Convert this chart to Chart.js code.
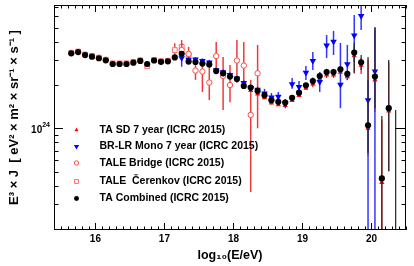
<!DOCTYPE html>
<html><head><meta charset="utf-8">
<script src="https://cdn.jsdelivr.net/npm/chart.js@4/dist/chart.umd.min.js"></script>
<style>html,body{margin:0;padding:0;background:#fff;overflow:hidden}</style>
</head><body>
<canvas id="c" width="414" height="266"></canvas>
<script>
// ---- data (values in units of 1e24 eV^2 m^-2 sr^-1 s^-1) ----
const UNIT = 1e24;
const xTicks = [16, 17, 18, 19, 20];
const xTickLabels = ['16', '17', '18', '19', '20'];
const yTickLabelBase = '10', yTickLabelExp = '24';

// TA Combined (ICRC 2015)
const combX = [15.65,15.75,15.85,15.95,16.05,16.15,16.25,16.35,16.45,16.55,16.65,16.75,16.85,16.95,17.05,17.15,17.25,17.35,17.45,17.55,17.65,17.75,17.85,17.95,18.05,18.15,18.25,18.35,18.45,18.55,18.65,18.75,18.85,18.95,19.05,19.15,19.25,19.35,19.45,19.55,19.65,19.75,19.85,19.95,20.05,20.15,20.25,20.35];
const combY = [3.32,3.39,3.23,3.15,3.07,2.97,2.80,2.80,2.80,2.86,2.94,2.80,2.96,2.90,2.92,3.11,3.30,2.91,2.89,2.82,2.78,2.50,2.41,2.29,2.20,1.97,1.92,1.82,1.70,1.57,1.53,1.51,1.63,1.77,1.99,2.13,2.31,2.46,2.46,2.57,2.39,3.36,2.88,1.05,2.29,0.448,1.38,0.15];
const combHi = [3.36,3.43,3.27,3.19,3.11,3.01,2.84,2.84,2.84,2.90,2.98,2.84,3.00,2.94,2.96,3.15,3.34,2.95,2.93,2.86,2.82,2.54,2.45,2.33,2.24,2.01,1.96,1.86,1.74,1.61,1.57,1.55,1.67,1.81,2.04,2.26,2.44,2.59,2.59,2.70,2.52,3.92,3.23,3.13,4.98,1.22,2.98,1.34];
const combLo = [3.28,3.35,3.19,3.11,3.03,2.93,2.76,2.76,2.76,2.82,2.90,2.76,2.92,2.86,2.88,3.07,3.26,2.87,2.85,2.78,2.74,2.46,2.37,2.25,2.16,1.93,1.88,1.78,1.66,1.53,1.49,1.47,1.59,1.73,1.94,2.01,2.19,2.34,2.34,2.45,2.27,2.43,2.54,0.673,1.38,0.05,0.505,0.05];

// BR-LR Mono 7 year (ICRC 2015)
const brlrX = [17.25,17.35,17.45,17.55,17.65,17.75,17.85,17.95,18.05,18.15,18.25,18.35,18.45,18.55,18.65,18.75,18.85,18.95,19.05,19.15,19.25,19.35,19.45,19.55,19.65,19.75,19.85,19.95,20.05];
const brlrY = [3.08,3.00,3.01,2.94,2.87,2.54,2.46,2.35,2.22,2.07,1.91,1.86,1.75,1.64,1.66,1.49,2.03,1.94,2.44,2.94,2.10,3.77,4.00,2.01,2.79,4.42,6.04,1.57,2.49];
const brlrHi = [3.34,3.12,3.13,3.06,2.99,2.65,2.56,2.45,2.32,2.16,2.00,1.95,1.88,1.76,1.79,1.60,2.24,2.13,2.71,3.39,2.46,4.45,4.75,3.92,3.80,6.14,10.0,2.17,5.06];
const brlrLo = [2.68,2.88,2.89,2.82,2.75,2.43,2.36,2.25,2.12,1.98,1.82,1.77,1.65,1.52,1.55,1.38,1.88,1.76,2.17,2.54,1.79,3.08,3.23,1.38,2.17,2.89,4.83,0.05,0.05];

// TA SD 7 year (ICRC 2015)
const sdX = [18.25,18.35,18.45,18.55,18.65,18.75,18.85,18.95,19.05,19.15,19.25,19.35,19.45,19.55,19.65,19.75,19.85,19.95,20.05,20.15,20.25];
const sdY = [1.83,1.73,1.63,1.50,1.46,1.44,1.56,1.69,1.90,2.03,2.20,2.35,2.35,2.45,2.28,3.20,2.74,1.00,2.17,0.42,1.32];
const sdHi = [1.86,1.76,1.66,1.53,1.49,1.47,1.59,1.72,1.94,2.13,2.30,2.46,2.46,2.57,2.40,3.70,3.09,3.00,4.80,1.15,2.90];
const sdLo = [1.80,1.70,1.60,1.47,1.43,1.41,1.53,1.66,1.86,1.93,2.10,2.24,2.24,2.33,2.16,2.40,2.39,0.64,1.30,0.05,0.50];

// TALE Bridge (ICRC 2015)
const bridgeX = [17.25,17.35,17.45,17.55,17.65,17.75,17.85,17.95,18.05,18.15,18.25,18.35];
const bridgeY = [3.50,3.29,2.52,2.48,2.08,3.18,2.31,2.00,2.96,2.73,1.24,2.41];
const bridgeHi = [3.92,3.68,2.89,2.89,2.85,3.98,3.13,2.76,4.11,3.98,2.17,3.80];
const bridgeLo = [3.08,2.89,2.17,1.79,1.57,2.46,1.34,1.52,2.07,2.00,0.36,1.00];

// TALE Cerenkov (ICRC 2015)
const cerX = [15.65,15.75,15.85,15.95,16.05,16.15,16.25,16.35,16.45,16.55,16.65,16.75,16.85,16.95,17.05,17.15,17.25,17.35];
const cerY = [3.35,3.42,3.26,3.18,3.10,3.00,2.83,2.83,2.83,2.89,2.97,2.70,2.99,2.93,2.95,3.50,3.68,3.25];
const cerHi = [3.39,3.46,3.30,3.22,3.14,3.04,2.87,2.87,2.87,2.93,3.01,2.74,3.03,2.97,2.99,3.90,4.11,3.45];
const cerLo = [3.31,3.38,3.22,3.14,3.06,2.96,2.79,2.79,2.79,2.85,2.93,2.66,2.95,2.89,2.91,3.20,3.00,3.05];

const legendLabels = ['TA SD 7 year (ICRC 2015)', 'BR-LR Mono 7 year (ICRC 2015)', 'TALE Bridge (ICRC 2015)', 'TALE  \u010Cerenkov (ICRC 2015)', 'TA Combined (ICRC 2015)'];

// ---- build ----
const FONT = "'Liberation Sans', Arial, Helvetica, sans-serif";
Chart.defaults.font.family = FONT;
Chart.defaults.color = '#000';

function mk(label, xs, ys, hi, lo, style) {
  return Object.assign({
    label,
    data: xs.map((x, i) => ({x, y: ys[i] * UNIT})),
    errHi: hi, errLo: lo,
    showLine: false
  }, style);
}

const datasets = [
  mk(legendLabels[4], combX, combY, combHi, combLo, {pointStyle:'circle', pointRadius:3.1, backgroundColor:'#000', borderColor:'#000', borderWidth:0, errColor:'#262626', errWidth:1.2}),
  mk(legendLabels[1], brlrX, brlrY, brlrHi, brlrLo, {pointStyle:'triangle', rotation:180, pointRadius:3.8, backgroundColor:'#0000ff', borderColor:'#0000ff', borderWidth:0, errColor:'#3535ff', errWidth:1.5}),
  mk(legendLabels[0], sdX, sdY, sdHi, sdLo, {pointStyle:'triangle', pointRadius:3, backgroundColor:'#ff0000', borderColor:'#ff0000', borderWidth:0, errColor:'#ff0000', errWidth:1.2}),
  mk(legendLabels[2], bridgeX, bridgeY, bridgeHi, bridgeLo, {pointStyle:'circle', pointRadius:2.7, backgroundColor:'#ffffff', borderColor:'#ff4a4a', borderWidth:1, errColor:'#f03a3a', errWidth:1.5}),
  mk(legendLabels[3], cerX, cerY, cerHi, cerLo, {pointStyle:'rect', pointRadius:3.4, backgroundColor:'#ffffff', borderColor:'#ff6a6a', borderWidth:1, errColor:'#f04848', errWidth:1.5})
];

const errorBars = {
  id: 'errorBars',
  beforeDatasetDraw(chart, args) {
    const d = chart.data.datasets[args.index];
    if (!d.errHi) return;
    const {ctx, chartArea: a, scales: {x, y}} = chart;
    ctx.save();
    ctx.beginPath(); ctx.rect(a.left, a.top, a.right - a.left, a.bottom - a.top); ctx.clip();
    ctx.strokeStyle = d.errColor; ctx.lineWidth = d.errWidth;
    d.data.forEach((p, i) => {
      const px = x.getPixelForValue(p.x);
      ctx.beginPath();
      ctx.moveTo(px, y.getPixelForValue(d.errHi[i] * UNIT));
      ctx.lineTo(px, y.getPixelForValue(d.errLo[i] * UNIT));
      ctx.stroke();
    });
    ctx.restore();
  }
};

const frame = {
  id: 'frame',
  afterDraw(chart) {
    const {ctx, chartArea: a, scales: {x, y}} = chart;
    ctx.save();
    ctx.strokeStyle = '#000'; ctx.lineWidth = 1;
    ctx.strokeRect(Math.round(a.left) + 0.5, Math.round(a.top) + 0.5, Math.round(a.right - a.left) - 1, Math.round(a.bottom - a.top) - 1);
    const L = (x1, y1, x2, y2) => { ctx.beginPath(); ctx.moveTo(x1, y1); ctx.lineTo(x2, y2); ctx.stroke(); };
    // x ticks every 0.1
    for (let k = Math.ceil(x.min * 10); k <= Math.floor(x.max * 10); k++) {
      const px = Math.round(x.getPixelForValue(k / 10)) + 0.5;
      const len = (k % 10 === 0) ? 7 : 3.5;
      L(px, a.bottom, px, a.bottom - len);
      L(px, a.top, px, a.top + len);
    }
    // y ticks (log)
    for (let e = 23; e <= 24; e++) {
      for (let m = 1; m <= 9; m++) {
        const v = m * Math.pow(10, e);
        if (v < y.min || v > y.max) continue;
        const py = Math.round(y.getPixelForValue(v)) + 0.5;
        const len = (m === 1) ? 9 : 4.5;
        L(a.left, py, a.left + len, py);
        L(a.right, py, a.right - len - (m === 1 ? 2 : 0), py);
      }
    }
    // y tick label 10^24
    const py = y.getPixelForValue(UNIT);
    ctx.fillStyle = '#000';
    ctx.textBaseline = 'middle';
    ctx.textAlign = 'right';
    ctx.font = 'bold 7px ' + FONT;
    ctx.fillText(yTickLabelExp, a.left - 4, py - 3);
    const ew = ctx.measureText(yTickLabelExp).width;
    ctx.font = 'bold 10px ' + FONT;
    ctx.fillText(yTickLabelBase, a.left - 4 - ew, py + 1.5);
    // legend
    const order = [2, 1, 3, 4, 0];
    const rows = [130, 146.5, 163, 181.5, 198.5];
    order.forEach((di, r) => {
      const d = chart.data.datasets[di];
      const mx = 76.5, my = rows[r];
      ctx.save();
      ctx.fillStyle = d.backgroundColor; ctx.strokeStyle = d.borderColor; ctx.lineWidth = d.borderWidth || 1;
      Chart.helpers.drawPoint(ctx, {pointStyle: d.pointStyle, radius: d.pointRadius * 0.8, rotation: d.rotation || 0, borderWidth: d.borderWidth}, mx, my);
      ctx.restore();
      ctx.fillStyle = '#000';
      ctx.textAlign = 'left'; ctx.textBaseline = 'middle';
      ctx.font = 'bold 10.5px ' + FONT;
      ctx.fillText(legendLabels[r], 99.5, my);
    });
    ctx.restore();
  }
};

new Chart(document.getElementById('c'), {
  type: 'scatter',
  data: {datasets},
  options: {
    responsive: false,
    animation: false,
    devicePixelRatio: 1,
    layout: {padding: {left: 0, right: 8, top: 5, bottom: 0}},
    plugins: {legend: {display: false}, tooltip: {enabled: false}},
    scales: {
      x: {
        type: 'linear', min: 15.4, max: 20.5,
        grid: {display: false, drawTicks: false}, border: {display: false},
        afterBuildTicks: s => { s.ticks = xTicks.map(v => ({value: v})); },
        afterFit: s => { s.height = 36; },
        ticks: {autoSkip: false, maxRotation: 0, padding: 3, font: {size: 10, weight: 'bold'},
                callback: v => xTickLabels[xTicks.indexOf(v)]},
        title: {display: true, text: 'log\u2081\u2080(E/eV)', font: {size: 12.5, weight: 'bold'}, padding: {top: 0, bottom: 3}}
      },
      y: {
        type: 'logarithmic', min: 1.963e23, max: 7.2e24,
        grid: {display: false, drawTicks: false}, border: {display: false},
        afterBuildTicks: s => { s.ticks = [{value: UNIT}]; },
        afterFit: s => { s.width = 54; },
        ticks: {display: false},
        title: {display: true, text: 'E\u00B3 \u00D7 J  [ eV\u00B2 \u00D7 m\u00B2 \u00D7 sr\u207B\u00B9 \u00D7 s\u207B\u00B9 ]', font: {size: 13, weight: 'bold'}, padding: {top: 7, bottom: 0}}
      }
    }
  },
  plugins: [errorBars, frame]
});
</script>
</body></html>
